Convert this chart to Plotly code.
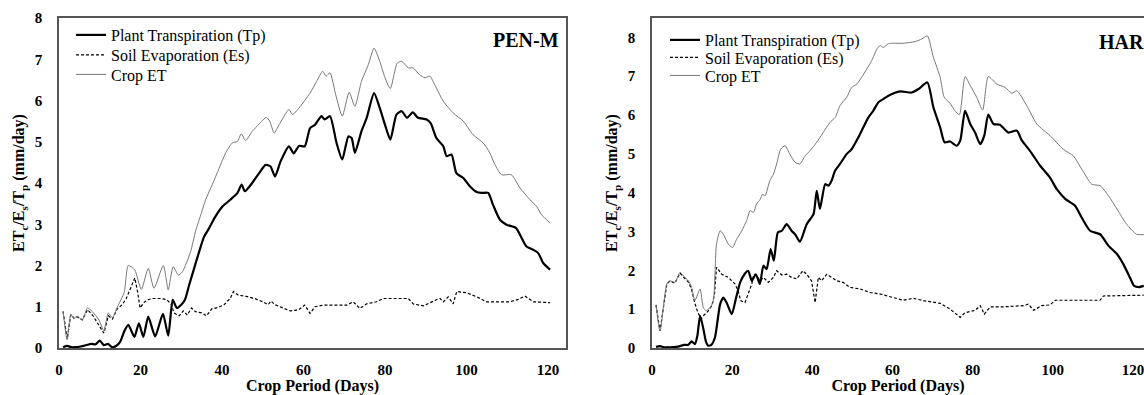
import plotly.graph_objects as go

# ---------------- PEN-M panel (left) ----------------
tp_pen_day = [1, 2, 3, 4, 5, 6, 7, 8, 9, 10, 11, 12, 13, 14, 15, 16, 17, 18.5, 19.6, 20.7, 21.9, 23.6,
              25.5, 26.8, 27.9, 28.9, 30, 30.9, 32, 32.7, 34.4, 35.6, 36.8, 38.4, 40.1, 42.1, 43.8, 44.8,
              45.6, 47.4, 49.1, 50.7, 51.9, 53, 54.4, 56.4, 57.6, 58.9, 60.3, 61.6, 62.8, 64.4, 65.2,
              66.5, 68.1, 69.5, 71, 71.8, 72.6, 74.2, 75.5, 77.3, 78.7, 80, 81.3, 82.8, 84.1, 85.4,
              86.8, 88.1, 90.2, 91.2, 92.6, 94.3, 95.1, 96.3, 97.5, 99.2, 100.8, 102.5, 103.7, 105.3,
              106.5, 108.2, 109.8, 112.1, 113.5, 114.7, 116.4, 117.6, 118.8, 120.5]
tp_pen = [0.02, 0.05, 0.02, 0.02, 0.03, 0.05, 0.08, 0.1, 0.09, 0.18, 0.07, 0.1, 0.02, 0.05, 0.15, 0.4,
          0.56, 0.27, 0.6, 0.27, 0.76, 0.28, 0.83, 0.3, 1.17, 0.97, 1.05, 1.17, 1.55, 1.78, 2.34, 2.7,
          2.9, 3.19, 3.43, 3.6, 3.76, 3.96, 3.8, 4.0, 4.24, 4.44, 4.4, 4.16, 4.53, 4.89, 4.72, 4.9,
          4.89, 5.33, 5.41, 5.62, 5.54, 5.62, 4.97, 4.57, 5.13, 5.09, 4.73, 5.25, 5.58, 6.18, 5.82,
          5.41, 5.05, 5.66, 5.74, 5.58, 5.71, 5.58, 5.54, 5.45, 5.09, 4.89, 4.65, 4.69, 4.24, 4.12,
          3.92, 3.78, 3.76, 3.76, 3.47, 3.11, 2.99, 2.91, 2.67, 2.46, 2.38, 2.3, 2.06, 1.9]

es_pen_day = [1, 2, 2.9, 3.7, 4.5, 5.7, 7, 8.2, 9.8, 11, 12.1, 13.1, 14.3, 15.5, 16.5, 17.5, 18.6, 19.3,
              19.9, 20.8, 21.8, 23, 25, 26.5, 27.6, 28.2, 29.5, 30.5, 31.5, 32.5, 33.5, 35, 36.2, 37.5,
              39, 40.5, 42, 42.8, 44, 46, 48, 50, 51.3, 52, 53, 54.2, 56.7, 58.7, 60.3, 61.6, 62.8, 64.8,
              70.6, 72.2, 73.8, 75.5, 77.9, 79.6, 85.7, 86.9, 89.4, 92.6, 93.5, 94.3, 95.5, 96.7, 97.6,
              100, 102.5, 104.9, 110.6, 112.7, 114.3, 116.4, 120.5]
es_pen = [0.89, 0.22, 0.81, 0.72, 0.76, 0.68, 0.93, 0.8, 0.55, 0.36, 0.78, 0.7, 0.95, 1.05, 1.2, 1.45,
          1.7, 1.35, 0.97, 1.1, 1.17, 1.2, 1.2, 1.17, 1.05, 0.85, 0.78, 0.9, 0.8, 0.97, 0.88, 0.85, 0.78,
          0.95, 0.98, 1.05, 1.2, 1.37, 1.28, 1.25, 1.2, 1.12, 1.05, 1.14, 1.05, 1.0, 0.9, 0.92, 1.04,
          0.84, 1.0, 1.04, 1.04, 1.12, 0.96, 1.07, 1.12, 1.2, 1.2, 1.07, 1.02, 1.17, 1.2, 1.12, 1.24,
          1.07, 1.37, 1.34, 1.24, 1.12, 1.12, 1.18, 1.26, 1.12, 1.1]

et_pen_day = [1, 2, 2.9, 3.7, 4.5, 5.7, 7, 8.2, 9.8, 11, 12.1, 13.1, 14.3, 16, 17, 18.6, 20.2, 21.9, 23.3,
              25.6, 26.8, 28, 29.3, 30.3, 32.3, 33.5, 34.8, 36, 37.6, 39.3, 40.9, 42.5, 43.8, 44.7, 45.8,
              47.4, 49.1, 50.9, 51.7, 52.8, 54, 56.4, 57.3, 58.9, 61.6, 63.2, 64.7, 65.5, 66.5, 67.9,
              69.5, 71.2, 72.6, 74.2, 75.9, 77.3, 78.7, 80, 81.3, 83, 84.1, 85.7, 86.9, 88.4, 89.8, 91,
              92.6, 94.3, 96.7, 99.2, 101.6, 104.1, 105.7, 107, 108.6, 111, 113.1, 115.5, 117.2, 118.4,
              120.5]
et_pen = [0.89, 0.2, 0.81, 0.73, 0.77, 0.68, 0.97, 0.88, 0.68, 0.42, 0.85, 0.73, 0.99, 1.35, 2.0, 1.89,
          1.42, 1.93, 1.45, 2.0, 1.41, 1.97, 1.77, 1.85, 2.34, 2.83, 3.23, 3.6, 3.96, 4.36, 4.73, 4.97,
          5.01, 5.19, 5.03, 5.25, 5.43, 5.59, 5.5, 5.21, 5.41, 5.78, 5.66, 5.82, 6.18, 6.46, 6.71, 6.59,
          6.67, 6.14, 5.62, 6.2, 5.86, 6.46, 6.87, 7.27, 6.95, 6.55, 6.29, 6.91, 6.95, 6.79, 6.79, 6.63,
          6.55, 6.59, 6.3, 5.98, 5.7, 5.5, 5.17, 4.97, 4.73, 4.44, 4.2, 4.2, 3.88, 3.6, 3.43, 3.23, 3.03]

# ---------------- HAR panel (right) ----------------
tp_har_day = [1, 2, 3, 4, 5, 6, 7, 8, 9, 9.9, 10.7, 11.3, 12, 12.8, 13.5, 14, 14.8, 15.7, 17, 17.8, 18.6,
              19.9, 21, 22, 23.2, 24, 24.9, 25.9, 26.9, 27.8, 28.6, 29.6, 30.4, 31.4, 32.4, 33.6, 34.8,
              35.7, 36.9, 38.6, 40.3, 41.1, 41.9, 43.2, 44, 44.8, 45.7, 46.9, 48.6, 49.8, 51.5, 52.7, 54,
              55.2, 56.5, 57.7, 59, 61.9, 64.8, 66.5, 68.7, 70.2, 71.9, 73, 74.4, 76, 76.9, 78.1, 79.4,
              80.6, 81.9, 82.9, 83.9, 85.2, 86.8, 88.9, 91, 92.3, 94.3, 96.8, 99.3, 101, 103.1, 105.6,
              107.2, 109.3, 111.8, 113.9, 116, 117.6, 119.3, 120.3, 121.5, 122.7]
tp_har = [0.03, 0.05, 0.02, 0.02, 0.02, 0.03, 0.05, 0.08, 0.08, 0.17, 0.1, 0.3, 0.83, 0.5, 0.15, 0.06,
          0.08, 0.27, 1.13, 1.3, 1.17, 0.87, 1.3, 1.69, 1.92, 1.99, 1.73, 1.9, 1.65, 2.12, 2.03, 2.55,
          2.25, 2.98, 3.02, 3.19, 3.02, 2.93, 2.74, 3.19, 3.45, 4.05, 3.58, 4.22, 4.18, 4.31, 4.57, 4.74,
          5.0, 5.12, 5.43, 5.68, 5.94, 6.11, 6.33, 6.41, 6.5, 6.61, 6.58, 6.67, 6.84, 6.2, 5.68, 5.3,
          5.32, 5.21, 5.34, 6.11, 5.77, 5.55, 5.25, 5.47, 6.01, 5.77, 5.75, 5.55, 5.6, 5.34, 5.08, 4.7,
          4.39, 4.09, 3.84, 3.66, 3.36, 3.02, 2.93, 2.63, 2.42, 2.16, 1.8, 1.6, 1.57, 1.6]

es_har_day = [1, 2, 3.7, 4.5, 5.7, 7, 7.8, 9.1, 9.9, 10.7, 11.5, 12.3, 13, 14, 15, 15.6, 16.1, 17.4, 19,
              20.7, 21.5, 22.1, 23.2, 24, 24.9, 25.4, 26.1, 27, 27.8, 29, 30.3, 31.1, 32.4, 33.6, 34.8,
              36.1, 37.6, 38.6, 39.8, 40.7, 41.5, 42.3, 43.6, 44.8, 46.1, 47.7, 49.4, 51.9, 54.4, 56.9,
              59.4, 62.7, 65.2, 67.7, 71.9, 74.4, 76.9, 78.1, 80.6, 81.9, 82.9, 84.4, 87.7, 92.7, 93.9,
              95.2, 97.2, 99.3, 100.6, 111.8, 112.6, 122.7]
es_har = [1.11, 0.44, 1.65, 1.73, 1.67, 1.93, 1.83, 1.7, 1.5, 1.15, 0.9, 0.75, 0.85, 0.95, 1.1, 1.4,
          2.08, 1.9, 1.82, 1.65, 1.47, 1.22, 1.17, 1.39, 1.65, 1.9, 1.86, 1.73, 1.82, 1.69, 1.82, 1.99,
          1.88, 1.9, 1.82, 1.78, 1.99, 1.9, 1.73, 1.17, 1.82, 1.73, 1.9, 1.82, 1.73, 1.69, 1.56, 1.52,
          1.43, 1.39, 1.32, 1.23, 1.28, 1.22, 1.15, 1.0, 0.79, 0.91, 0.97, 1.09, 0.87, 1.06, 1.06, 1.09,
          1.13, 0.97, 1.09, 1.11, 1.23, 1.23, 1.34, 1.36]

et_har_day = [1, 2, 3.7, 4.5, 5.7, 7, 7.8, 9.1, 9.9, 10.7, 12, 12.8, 13.5, 14.5, 15.3, 16.1, 17, 17.8,
              19, 20.1, 21.1, 22.4, 23.6, 24.5, 25.3, 26.1, 27, 27.6, 28.2, 29.4, 30.3, 31.1, 32.1, 33.2,
              34.4, 35.7, 36.9, 38.2, 39.4, 41.1, 42.7, 44.4, 45.7, 46.9, 48.6, 49.8, 51.1, 52.3, 53.6,
              54.8, 56.1, 56.9, 57.7, 59, 62.7, 65.6, 67.3, 68.7, 70.2, 71.9, 72.9, 74.4, 75.6, 76.7,
              78.1, 79.4, 81, 82.5, 83.9, 86, 88.1, 89.8, 91, 93.5, 96, 99.3, 102.6, 105.1, 107.2, 109.7,
              111.8, 113.9, 116, 118.4, 120.9, 122.7]
et_har = [1.11, 0.44, 1.65, 1.73, 1.69, 1.95, 1.86, 1.73, 1.56, 1.22, 1.52, 1.04, 0.96, 1.04, 1.22,
          2.68, 3.02, 2.93, 2.68, 2.59, 2.8, 3.02, 3.28, 3.54, 3.49, 3.71, 3.83, 3.96, 3.92, 4.31, 4.48,
          4.74, 5.12, 5.21, 4.99, 4.78, 4.74, 4.95, 5.08, 5.3, 5.55, 5.81, 5.94, 6.24, 6.46, 6.71, 6.8,
          6.97, 7.19, 7.4, 7.7, 7.79, 7.74, 7.84, 7.85, 7.89, 7.96, 8.04, 7.49, 6.97, 6.46, 6.3, 6.11,
          6.01, 6.99, 6.76, 6.46, 6.13, 6.99, 6.8, 6.71, 6.56, 6.63, 6.24, 5.77, 5.47, 5.12, 4.95, 4.61,
          4.22, 4.18, 3.92, 3.58, 3.19, 2.93, 2.92]

x_ticks = [0, 20, 40, 60, 80, 100, 120]
y_ticks = [0, 1, 2, 3, 4, 5, 6, 7, 8]
series_names = ["Plant Transpiration (Tp)", "Soil Evaporation (Es)", "Crop ET"]
panel_labels = ["PEN-M", "HAR"]

FONT = "Liberation Serif"
W, H = 1144, 395
M_T, M_B = 18, 47          # plot area spans pixel rows 18..348
FRAME = "#555555"


def px_x(p):
    return p / W


def px_y(p):
    return (H - M_B - p) / (H - M_T - M_B)


fig = go.Figure()

# legend rows: (left x px, row centre y px) for each series, per panel
legend_rows = [
    [(71, 35), (71, 55), (71, 74.5)],
    [(665, 40), (665, 57.5), (665, 75.5)],
]

panels = [
    (tp_pen_day, tp_pen, es_pen_day, es_pen, et_pen_day, et_pen, "x", "y"),
    (tp_har_day, tp_har, es_har_day, es_har, et_har_day, et_har, "x2", "y2"),
]
styles = [
    dict(color="black", width=2.2, shape="spline", smoothing=0.6),
    dict(color="black", width=1.2, dash="3px,2px"),
    dict(color="#777777", width=1, shape="spline", smoothing=0.6),
]

legend_font = dict(family=FONT, size=16, color="black")
legend_layout = {}
n = 0
for pi, (tpd, tpv, esd, esv, etd, etv, xa, ya) in enumerate(panels):
    for si, (xs, ys) in enumerate([(tpd, tpv), (esd, esv), (etd, etv)]):
        n += 1
        lname = "legend" if n == 1 else f"legend{n}"
        fig.add_trace(go.Scatter(x=xs, y=ys, mode="lines", name=series_names[si], xaxis=xa, yaxis=ya,
                                 legend=lname, line=styles[si]))
        lx, ly = legend_rows[pi][si]
        legend_layout[lname] = dict(x=px_x(lx), y=px_y(ly), xanchor="left", yanchor="middle",
                                    bgcolor="rgba(0,0,0,0)", borderwidth=0, font=legend_font)

tickfont = dict(family=FONT, size=15, color="black")
titlefont = dict(family=FONT, size=16, color="black")
ytitle = "<b>ET<sub>c</sub>/E<sub>s</sub>/T<sub>p</sub> (mm/day)</b>"
xtitle = "<b>Crop Period (Days)</b>"
x_ticktext = ["<b>%d</b>" % v for v in x_ticks]
y_ticktext = ["<b>%d</b>" % v for v in y_ticks]

common_x = dict(tickvals=x_ticks, ticktext=x_ticktext, ticks="", showgrid=False, zeroline=False,
                showline=True, linecolor=FRAME, linewidth=1.5, tickfont=tickfont, ticklabelstandoff=7,
                ticklabeloverflow="allow", automargin=True,
                title=dict(text=xtitle, font=titlefont, standoff=5))
common_y = dict(tickvals=y_ticks, ticktext=y_ticktext, ticks="", showgrid=False, zeroline=False,
                showline=True, linecolor=FRAME, linewidth=1.5, tickfont=tickfont, ticklabelstandoff=12,
                automargin=True,
                title=dict(text=ytitle, font=titlefont, standoff=6))

fig.update_layout(
    template="none",
    font=dict(family=FONT, size=16, color="black"),
    width=W, height=H,
    margin=dict(l=0, r=0, t=M_T, b=M_B, autoexpand=False),
    paper_bgcolor="white", plot_bgcolor="white",
    showlegend=True,
    xaxis=dict(domain=[px_x(59), px_x(566)], range=[0, 124.4], anchor="y", mirror=True, **common_x),
    yaxis=dict(domain=[0, 1], range=[0, 8], anchor="x", mirror=True, **common_y),
    xaxis2=dict(domain=[px_x(652), 1.0], range=[0, 122.75], anchor="y2", mirror=True, **common_x),
    yaxis2=dict(domain=[0, 1], range=[0, 8.5], anchor="x2", mirror=False, **common_y),
    annotations=[
        dict(text="<b>" + panel_labels[0] + "</b>", xref="paper", yref="paper", x=px_x(561), y=px_y(40),
             xanchor="right", yanchor="middle", showarrow=False,
             font=dict(family=FONT, size=20, color="black")),
        dict(text="<b>" + panel_labels[1] + "</b>", xref="paper", yref="paper", x=px_x(1097), y=px_y(42),
             xanchor="left", yanchor="middle", showarrow=False,
             font=dict(family=FONT, size=20, color="black")),
    ],
    **legend_layout,
)

fig.write_html("out.html")
